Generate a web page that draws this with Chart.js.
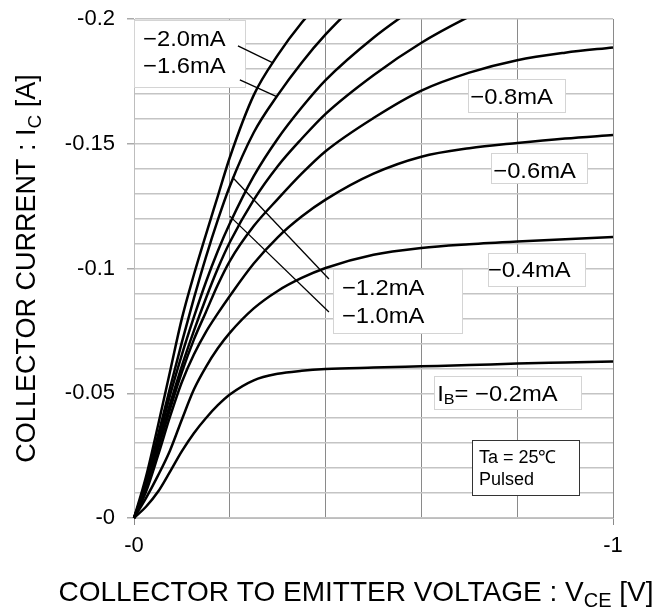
<!DOCTYPE html>
<html>
<head>
<meta charset="utf-8">
<script src="https://cdn.jsdelivr.net/npm/chart.js@4/dist/chart.umd.min.js"></script>
<style>
  html, body { margin: 0; padding: 0; background: #fff; }
  canvas { display: block; }
</style>
</head>
<body>
<canvas id="chart" width="665" height="611"></canvas>
<script>
// VCE magnitude [V] shared by all curves
const vce = [0, 0.025, 0.05, 0.075, 0.1, 0.125, 0.15, 0.175, 0.2, 0.25, 0.3, 0.35, 0.4, 0.5, 0.6, 0.7, 0.8, 0.9, 1.0];

// IC magnitude [A] per base current (null = curve has left the plot)
const ic02 = [0, 0.0045, 0.0105, 0.0185, 0.0268, 0.0340, 0.0400, 0.0452, 0.0495, 0.0552, 0.0578, 0.0590, 0.0597, 0.0603, 0.0608, 0.0613, 0.0619, 0.0623, 0.0627];
const ic04 = [0, 0.008, 0.017, 0.027, 0.0395, 0.0515, 0.0605, 0.068, 0.0742, 0.0840, 0.0910, 0.0962, 0.1002, 0.1055, 0.1082, 0.1097, 0.1108, 0.1117, 0.1126];
const ic06 = [0, 0.0105, 0.025, 0.0405, 0.0545, 0.0655, 0.0745, 0.082, 0.089, 0.102, 0.1125, 0.1208, 0.1276, 0.138, 0.1448, 0.1482, 0.1503, 0.1521, 0.1535];
const ic08 = [0, 0.012, 0.0275, 0.0435, 0.0585, 0.0715, 0.0825, 0.0935, 0.103, 0.117, 0.1278, 0.138, 0.147, 0.1603, 0.1713, 0.1785, 0.1835, 0.1865, 0.1886];
const ic10 = [0, 0.0125, 0.0285, 0.0455, 0.061, 0.075, 0.088, 0.100, 0.1105, 0.1275, 0.141, 0.152, 0.162, 0.1775, 0.1905, 0.201, 0.21, null, null];
const ic12 = [0, 0.0135, 0.0305, 0.049, 0.0655, 0.0805, 0.0945, 0.107, 0.118, 0.137, 0.152, 0.1645, 0.1755, 0.1925, 0.2065, null, null, null, null];
const ic16 = [0, 0.0145, 0.033, 0.052, 0.0705, 0.088, 0.1045, 0.1195, 0.133, 0.1545, 0.1695, 0.1825, 0.1938, 0.213, null, null, null, null, null];
const ic20 = [0, 0.0165, 0.037, 0.0585, 0.08, 0.0975, 0.1135, 0.129, 0.1445, 0.1695, 0.1855, 0.1985, 0.209, null, null, null, null, null, null];

const curves = [ic02, ic04, ic06, ic08, ic10, ic12, ic16, ic20];
const curveNames = ["-0.2mA", "-0.4mA", "-0.6mA", "-0.8mA", "-1.0mA", "-1.2mA", "-1.6mA", "-2.0mA"];

// axis ticks
const xTickLabels = { 0: "-0", 1: "-1" };
const yLabelStep = 0.05;

// annotation texts, anchored in data units (x = text left, y = line centre)
const noteTexts = [
  { x: 0.019, y: 0.1916, text: [["−2.0mA"]] },
  { x: 0.019, y: 0.1806, text: [["−1.6mA"]] },
  { x: 0.434, y: 0.0918, text: [["−1.2mA"]] },
  { x: 0.434, y: 0.0806, text: [["−1.0mA"]] },
  { x: 0.702, y: 0.1684, text: [["−0.8mA"]] },
  { x: 0.750, y: 0.1389, text: [["−0.6mA"]] },
  { x: 0.739, y: 0.0990, text: [["−0.4mA"]] },
  { x: 0.633, y: 0.0493, text: [["I"], ["B", true], ["= −0.2mA"]] },
  { x: 0.720, y: 0.0240, text: [["Ta = 25℃"]], small: true },
  { x: 0.720, y: 0.0152, text: [["Pulsed"]], small: true }
];
// boxes: [x0, x1, y0, y1] in data units
const noteBoxes = [
  [0.000, 0.232, 0.1996, 0.1727],
  [0.415, 0.685, 0.0998, 0.0741],
  [0.697, 0.900, 0.1760, 0.1627],
  [0.745, 0.946, 0.1463, 0.1343],
  [0.739, 0.942, 0.1062, 0.0930],
  [0.626, 0.933, 0.0569, 0.0437]
];
const tempBox = [0.706, 0.929, 0.0313, 0.0092];
// leader lines: [x0, y0, x1, y1] in data units
const leaders = [
  [0.217, 0.1892, 0.290, 0.1824],
  [0.221, 0.1756, 0.299, 0.1688],
  [0.205, 0.1367, 0.407, 0.0958],
  [0.200, 0.1210, 0.407, 0.0826]
];

const FONT = '"Liberation Sans", Arial, sans-serif';

function drawRich(ctx, parts, x, y, size, align, sx) {
  const subSize = Math.round(size * 0.7);
  let total = 0;
  parts.forEach(p => {
    ctx.font = (p[1] ? subSize : size) + "px " + FONT;
    total += ctx.measureText(p[0]).width;
  });
  ctx.save();
  ctx.translate(x, y);
  ctx.scale(sx || 1, 1);
  let cx = align === "center" ? -total / 2 : 0;
  ctx.textAlign = "left";
  parts.forEach(p => {
    ctx.font = (p[1] ? subSize : size) + "px " + FONT;
    ctx.fillText(p[0], cx, p[1] ? size * 0.22 : 0);
    cx += ctx.measureText(p[0]).width;
  });
  ctx.restore();
}

function pixelBox(x, y, b) {
  const x0 = Math.round(x.getPixelForValue(b[0])) + 0.5, x1 = Math.round(x.getPixelForValue(b[1])) + 0.5;
  const y0 = Math.round(y.getPixelForValue(b[2])) + 0.5, y1 = Math.round(y.getPixelForValue(b[3])) + 0.5;
  return [x0, y0, x1 - x0, y1 - y0];
}

const notesPlugin = {
  id: "notes",
  afterDatasetsDraw(chart) {
    const { ctx, scales: { x, y } } = chart;
    ctx.save();
    ctx.lineWidth = 1;
    noteBoxes.forEach(b => {
      const r = pixelBox(x, y, b);
      ctx.fillStyle = "#fff";
      ctx.fillRect(...r);
      ctx.strokeStyle = "#d4d4d4";
      ctx.strokeRect(...r);
    });
    const t = pixelBox(x, y, tempBox);
    ctx.fillStyle = "#fff";
    ctx.fillRect(...t);
    ctx.strokeStyle = "#333";
    ctx.strokeRect(...t);

    ctx.strokeStyle = "#000";
    ctx.lineWidth = 1.3;
    leaders.forEach(l => {
      ctx.beginPath();
      ctx.moveTo(x.getPixelForValue(l[0]), y.getPixelForValue(l[1]));
      ctx.lineTo(x.getPixelForValue(l[2]), y.getPixelForValue(l[3]));
      ctx.stroke();
    });
    ctx.fillStyle = "#000";
    ctx.textBaseline = "middle";
    noteTexts.forEach(n => {
      drawRich(ctx, n.text, x.getPixelForValue(n.x), y.getPixelForValue(n.y),
        n.small ? 18 : 22, "left", n.small ? 1 : 1.08);
    });
    ctx.restore();
  },
  afterDraw(chart) {
    const { ctx, chartArea } = chart;
    ctx.save();
    ctx.fillStyle = "#000";
    ctx.textBaseline = "alphabetic";
    // y axis title
    ctx.save();
    ctx.translate(35, (chartArea.top + chartArea.bottom) / 2);
    ctx.rotate(-Math.PI / 2);
    drawRich(ctx, [["COLLECTOR CURRENT : I"], ["C", true], [" [A]"]], 0, 0, 27, "center");
    ctx.restore();
    // x axis title
    drawRich(ctx, [["COLLECTOR TO EMITTER VOLTAGE : V"], ["CE", true], [" [V]"]], 356, 601, 28, "center");
    ctx.restore();
  }
};

const ctx = document.getElementById("chart").getContext("2d");
new Chart(ctx, {
  type: "line",
  data: {
    labels: vce,
    datasets: curves.map((c, i) => ({
      label: curveNames[i],
      data: c,
      borderColor: "#000",
      borderWidth: 2.5,
      pointRadius: 0,
      fill: false,
      cubicInterpolationMode: "monotone",
      clip: { left: 5, right: 5, bottom: 5, top: 0 }
    }))
  },
  options: {
    responsive: false,
    animation: false,
    devicePixelRatio: 1,
    layout: { padding: { left: 0, right: 52, top: 19, bottom: 0 } },
    plugins: { legend: { display: false }, tooltip: { enabled: false }, title: { display: false } },
    scales: {
      x: {
        type: "linear",
        min: 0,
        max: 1,
        afterFit(scale) { scale.height = 93; },
        border: { color: "#bdbdbd", width: 1 },
        grid: {
          color: "#8a8a8a",
          lineWidth: 1,
          tickLength: 7,
          tickColor: c => (c.tick && (c.tick.value === 0 || Math.abs(c.tick.value - 1) < 1e-9)) ? "#8a8a8a" : "rgba(0,0,0,0)"
        },
        ticks: {
          stepSize: 0.2,
          autoSkip: false,
          maxRotation: 0,
          padding: 8,
          color: "#000",
          font: { family: FONT, size: 22 },
          callback: v => {
            const k = Math.round(v * 10) / 10;
            return xTickLabels[k] !== undefined && Math.abs(v - k) < 1e-9 ? xTickLabels[k] : "";
          }
        }
      },
      y: {
        type: "linear",
        min: 0,
        max: 0.2,
        afterFit(scale) {
          scale.width = 134;
          scale.paddingTop = 0;
          scale.paddingBottom = 0;
        },
        border: { color: "#bdbdbd", width: 1 },
        grid: {
          color: "#c4c4c4",
          lineWidth: 1.5,
          tickLength: 7,
          tickColor: c => {
            const v = c.tick ? c.tick.value : 0;
            const r = Math.round(v * 100);
            return r % Math.round(yLabelStep * 100) === 0 ? "#aaaaaa" : "rgba(0,0,0,0)";
          }
        },
        ticks: {
          stepSize: 0.01,
          autoSkip: false,
          padding: 12,
          color: "#000",
          font: { family: FONT, size: 22 },
          callback: v => {
            const r = Math.round(v * 100);
            return r % Math.round(yLabelStep * 100) === 0 ? "-" + (r / 100) : "";
          }
        }
      }
    }
  },
  plugins: [notesPlugin]
});
</script>
</body>
</html>
